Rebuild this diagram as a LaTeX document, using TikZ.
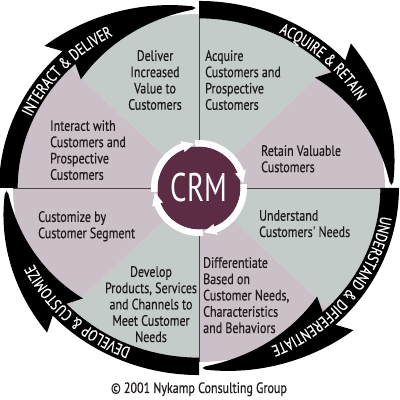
\documentclass[tikz,border=0pt]{standalone}
\usepackage{fontspec}
\usetikzlibrary{decorations.text}
\newfontfamily\condfont{PT Sans}[FakeStretch=0.8,FakeBold=0.4]
\newfontfamily\ringcond{PT Sans}[FakeStretch=0.78,FakeBold=0.5]
\newfontfamily\crmfont{PT Sans}[FakeStretch=0.72]
\newcommand\ringfont{\ringcond\fontsize{16}{16}\selectfont}
\definecolor{sgreen}{HTML}{C4CCC9}
\definecolor{slav}{HTML}{CBC0C7}
\definecolor{crmred}{HTML}{5C2C45}
\definecolor{divline}{HTML}{4A3F46}
\definecolor{txt}{HTML}{1E1A1C}
\begin{document}
\begin{tikzpicture}[x=1pt,y=1pt,
  sectortext/.style={font=\condfont\fontsize{15}{16.3}\selectfont, text=txt, inner sep=0pt},
  ringtext/.style={decorate, decoration={text along path, text align=center, text color=white, text={#1}}},
  arrowfill/.style={fill=black}]
\useasboundingbox (0,0) rectangle (400,400);
\clip (0,0) rectangle (400,400);
\fill[white] (0,0) rectangle (400,400);
\begin{scope}[shift={(199,212)}, x=186pt, y=174pt]
  \foreach \a/\b/\col in {90/45/sgreen, 45/0/slav, 0/-45/sgreen, -45/-90/slav, -90/-135/sgreen, -135/-180/slav, 180/135/slav, 135/90/sgreen}
    \fill[\col] (0,0) -- plot[domain=\a:\b,samples=30] (\x:1) -- cycle;
  \draw[divline, line width=0.8pt] (90:1) -- (-90:1);
  \draw[divline, line width=0.8pt] (180:1) -- (0:1);
  \foreach \s in {90,0,-90,-180}{
    \pgfmathsetmacro\aJ{\s-47}
    \pgfmathsetmacro\aB{\s-44.5}
    \pgfmathsetmacro\aT{\s-88}
    \pgfmathsetmacro\aP{\s-89}
    \fill[arrowfill] plot[domain=\s:\aJ,samples=30] (\x:1.075)
      -- plot[domain=\aB:\aT,samples=30] (\x:{1.165-0.12*(\aB-\x)/43.5})
      -- (\aP:1.035)
      -- plot[domain=\aT:\aB,samples=30] (\x:{0.89+0.135*(\aB-\x)/43.5})
      -- plot[domain=\aJ:\s,samples=30] (\x:0.975) -- cycle;
  }
  \path[ringtext={|\ringfont|INTERACT {\&} DELIVER}] plot[domain=167:107,samples=50] (\x:0.99);
  \path[ringtext={|\ringfont|ACQUIRE {\&} RETAIN}] plot[domain=77:17,samples=50] (\x:0.99);
  \path[ringtext={|\ringfont|UNDERSTAND {\&} DIFFERENTIATE}] plot[domain=-3:-73,samples=60] (\x:0.99);
  \path[ringtext={|\ringfont|DEVELOP {\&} CUSTOMIZE}] plot[domain=257:197,samples=50] (\x:0.99);
\end{scope}
\begin{scope}[shift={(199,212)}]
  \fill[crmred] (0,0) circle (41.5);
  \foreach \s in {95,5,-85,-175}{
    \pgfmathsetmacro\cJ{\s-74}
    \pgfmathsetmacro\cB{\s-73}
    \pgfmathsetmacro\cT{\s-89}
    \fill[white] plot[domain=\s:\cJ,samples=20] (\x:48)
      -- (\cB:50.5) -- (\cT:44.5) -- (\cB:38.8)
      -- plot[domain=\cJ:\s,samples=20] (\x:41.5) -- cycle;
  }
\end{scope}
\node[font=\crmfont\fontsize{40}{40}\selectfont, text=white, inner sep=0pt] (crm) at (199,212) {CRM};
\node[sectortext, anchor=north, align=center] (deliver) at (155,350) {Deliver\\Increased\\Value to\\Customers};
\node[sectortext, anchor=north west, align=left] (acquire) at (205,350) {Acquire\\Customers and\\Prospective\\Customers};
\node[sectortext, anchor=north west, align=left] (retain) at (261,255) {Retain Valuable\\Customers};
\node[sectortext, anchor=north west, align=left] (understand) at (259,190) {Understand\\Customers' Needs};
\node[sectortext, anchor=north west, align=left] (differ) at (203,143) {Differentiate\\Based on\\Customer Needs,\\Characteristics\\and Behaviors};
\node[sectortext, anchor=north, align=center] (develop) at (151,134) {Develop\\Products, Services\\and Channels to\\Meet Customer\\Needs};
\node[sectortext, anchor=north west, align=left] (customize) at (38,189) {Customize by\\Customer Segment};
\node[sectortext, anchor=north west, align=left] (interact) at (50,280) {Interact with\\Customers and\\Prospective\\Customers};
\node[font=\condfont\fontsize{15}{15}\selectfont, text=txt, anchor=base, inner sep=0pt] (copy) at (199,7) {© 2001 Nykamp Consulting Group};
\end{tikzpicture}
\end{document}
